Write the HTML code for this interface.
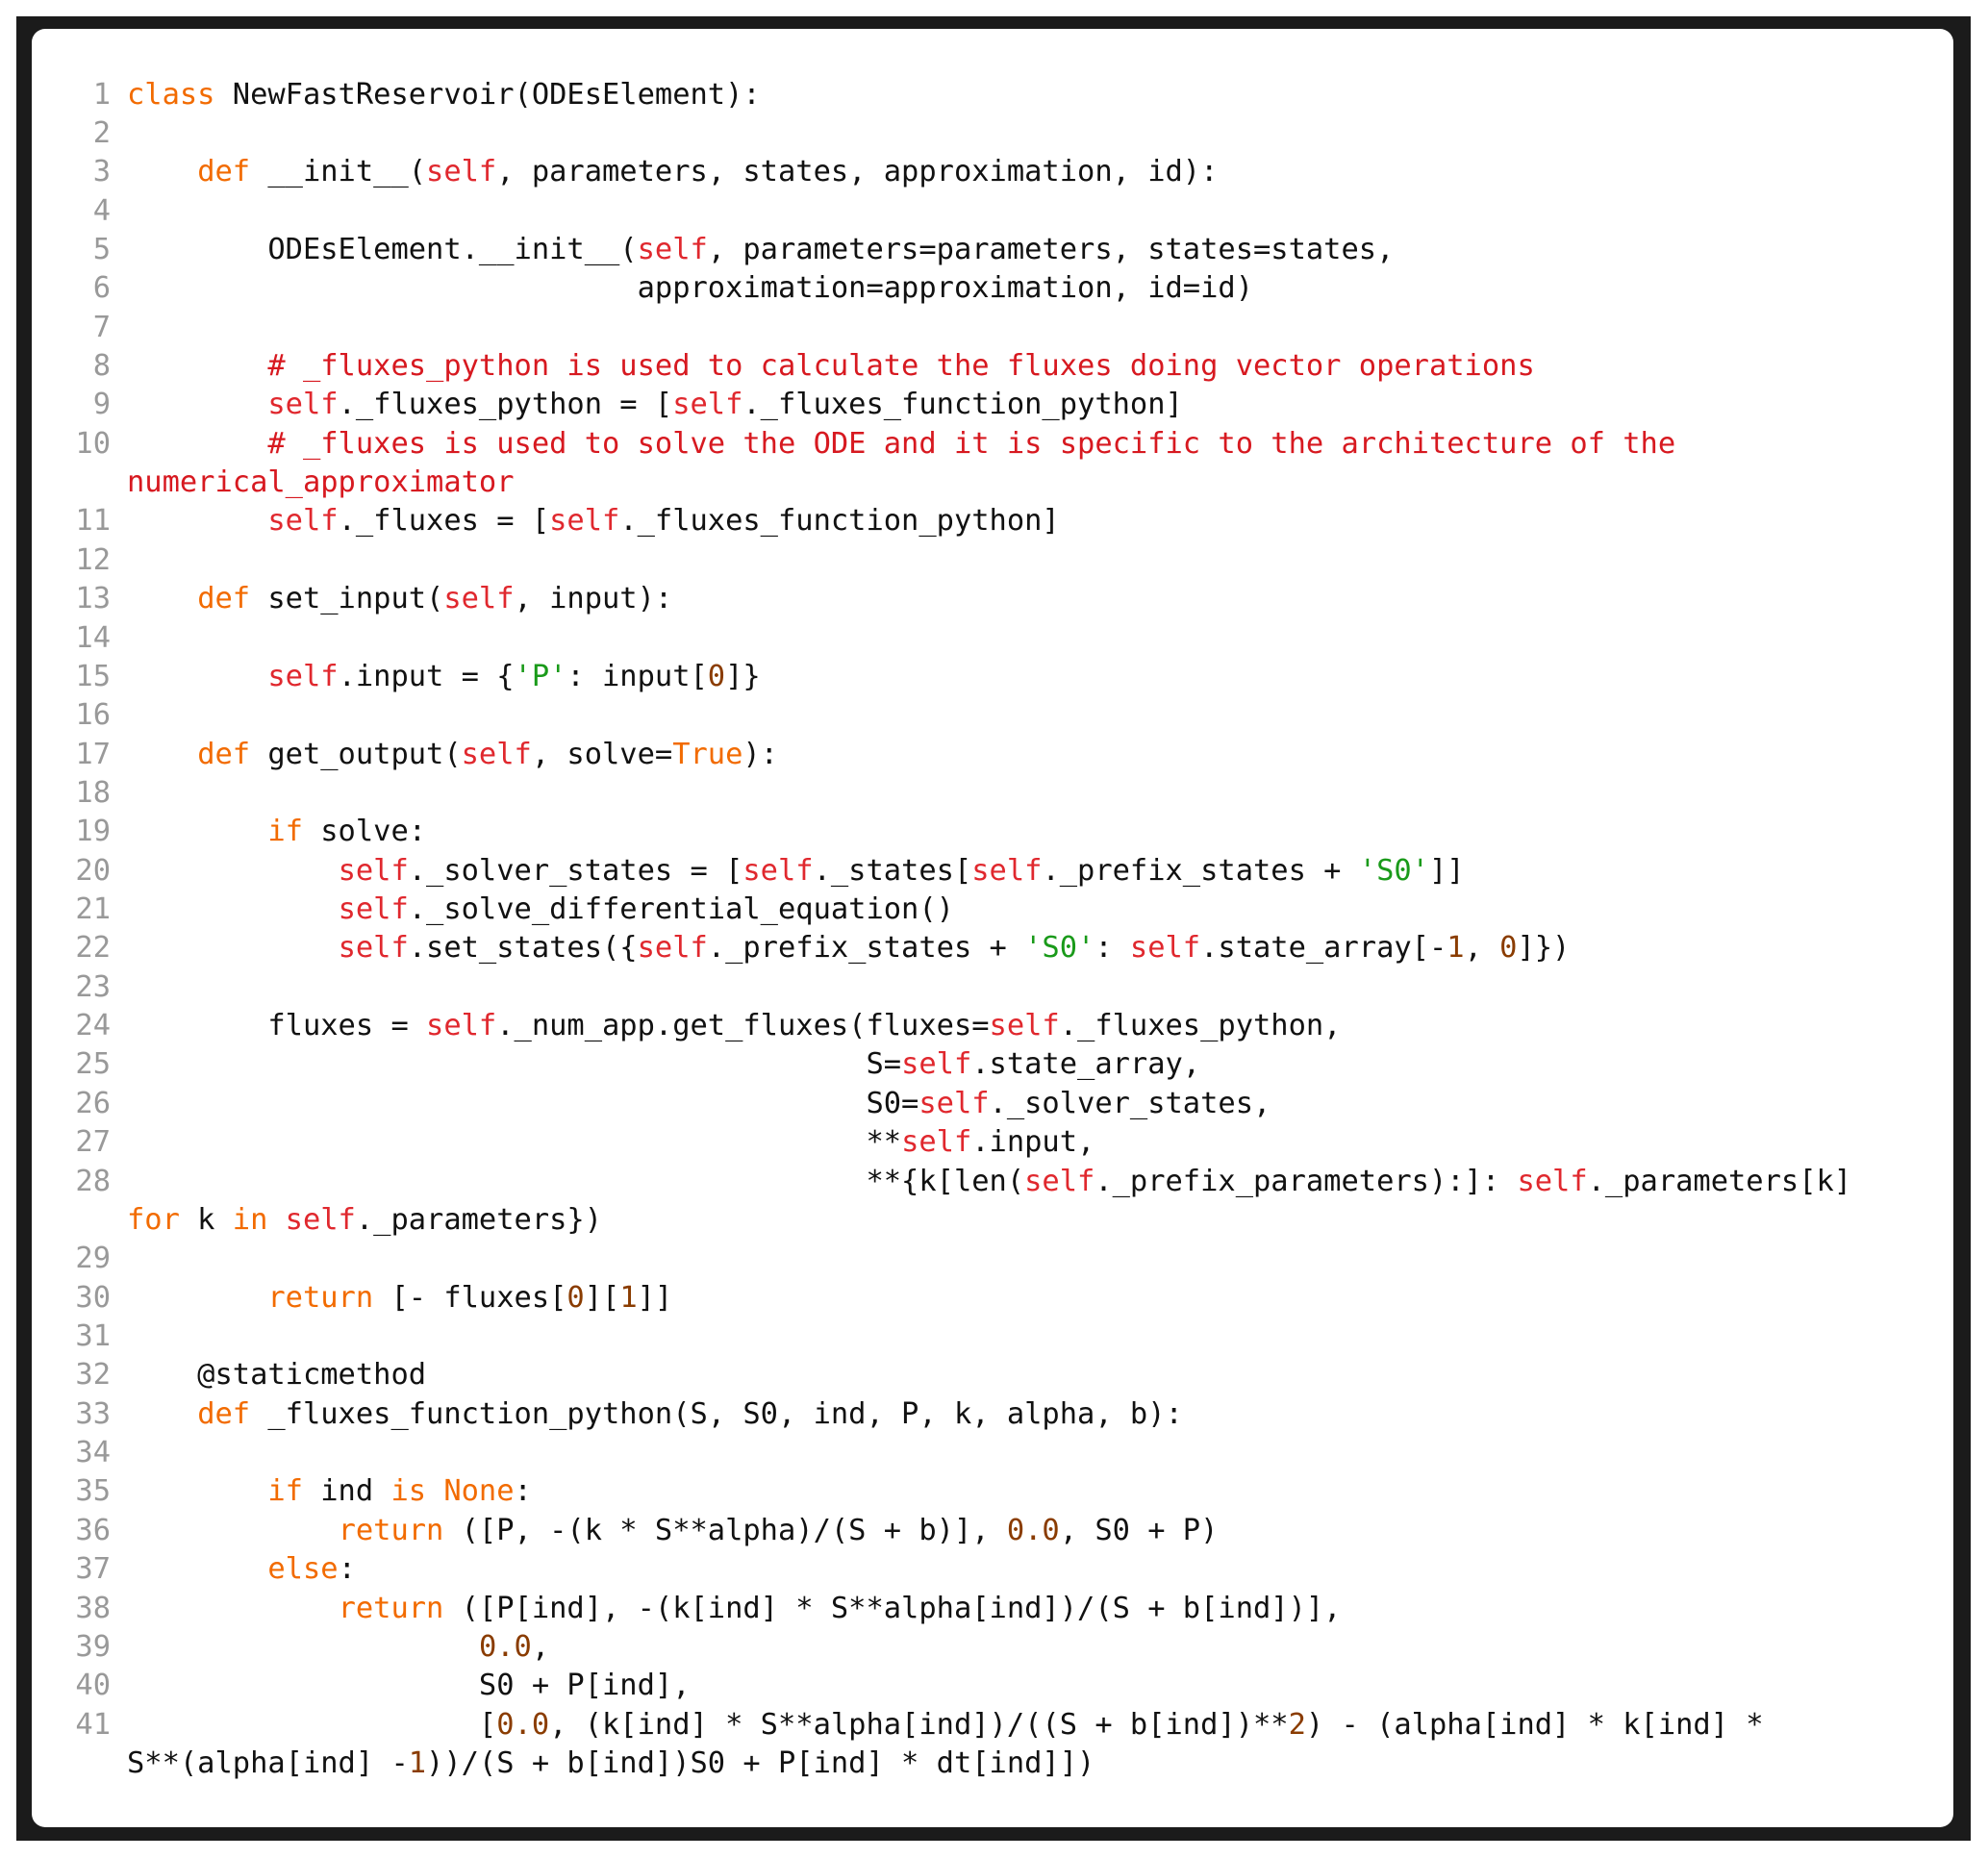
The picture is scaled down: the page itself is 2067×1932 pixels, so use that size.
<!DOCTYPE html>
<html><head><meta charset="utf-8"><style>
html,body{margin:0;padding:0;background:#fff;width:2067px;height:1932px;overflow:hidden}
.outer{position:absolute;left:17px;top:17px;width:2032px;height:1897px;background:#1b1b1b}
.inner{position:absolute;left:33px;top:30px;width:1998px;height:1870px;background:#fff;border-radius:14px}
.code{position:absolute;left:0;top:78.5px;width:2067px;font-family:"DejaVu Sans Mono","Liberation Mono",monospace;font-size:30.4px;line-height:40.36px;color:#111}
.r{position:relative;height:40.36px}
.n{position:absolute;left:0;width:115px;text-align:right;color:#999}
.t{position:absolute;left:132px;white-space:pre}
.k{color:#f26b00}.s{color:#e0282e}.c{color:#d71920}.g{color:#1a9a1a}.m{color:#8a3c00}
</style></head><body>
<div class="outer"></div><div class="inner"></div>
<div class="code">
<div class="r"><span class="n">1</span><span class="t"><span class="k">class</span> NewFastReservoir(ODEsElement):</span></div>
<div class="r"><span class="n">2</span></div>
<div class="r"><span class="n">3</span><span class="t">    <span class="k">def</span> __init__(<span class="s">self</span>, parameters, states, approximation, id):</span></div>
<div class="r"><span class="n">4</span></div>
<div class="r"><span class="n">5</span><span class="t">        ODEsElement.__init__(<span class="s">self</span>, parameters=parameters, states=states,</span></div>
<div class="r"><span class="n">6</span><span class="t">                             approximation=approximation, id=id)</span></div>
<div class="r"><span class="n">7</span></div>
<div class="r"><span class="n">8</span><span class="t">        <span class="c"># _fluxes_python is used to calculate the fluxes doing vector operations</span></span></div>
<div class="r"><span class="n">9</span><span class="t">        <span class="s">self</span>._fluxes_python = [<span class="s">self</span>._fluxes_function_python]</span></div>
<div class="r"><span class="n">10</span><span class="t">        <span class="c"># _fluxes is used to solve the ODE and it is specific to the architecture of the</span></span></div>
<div class="r"><span class="t"><span class="c">numerical_approximator</span></span></div>
<div class="r"><span class="n">11</span><span class="t">        <span class="s">self</span>._fluxes = [<span class="s">self</span>._fluxes_function_python]</span></div>
<div class="r"><span class="n">12</span></div>
<div class="r"><span class="n">13</span><span class="t">    <span class="k">def</span> set_input(<span class="s">self</span>, input):</span></div>
<div class="r"><span class="n">14</span></div>
<div class="r"><span class="n">15</span><span class="t">        <span class="s">self</span>.input = {<span class="g">'P'</span>: input[<span class="m">0</span>]}</span></div>
<div class="r"><span class="n">16</span></div>
<div class="r"><span class="n">17</span><span class="t">    <span class="k">def</span> get_output(<span class="s">self</span>, solve=<span class="k">True</span>):</span></div>
<div class="r"><span class="n">18</span></div>
<div class="r"><span class="n">19</span><span class="t">        <span class="k">if</span> solve:</span></div>
<div class="r"><span class="n">20</span><span class="t">            <span class="s">self</span>._solver_states = [<span class="s">self</span>._states[<span class="s">self</span>._prefix_states + <span class="g">'S0'</span>]]</span></div>
<div class="r"><span class="n">21</span><span class="t">            <span class="s">self</span>._solve_differential_equation()</span></div>
<div class="r"><span class="n">22</span><span class="t">            <span class="s">self</span>.set_states({<span class="s">self</span>._prefix_states + <span class="g">'S0'</span>: <span class="s">self</span>.state_array[-<span class="m">1</span>, <span class="m">0</span>]})</span></div>
<div class="r"><span class="n">23</span></div>
<div class="r"><span class="n">24</span><span class="t">        fluxes = <span class="s">self</span>._num_app.get_fluxes(fluxes=<span class="s">self</span>._fluxes_python,</span></div>
<div class="r"><span class="n">25</span><span class="t">                                          S=<span class="s">self</span>.state_array,</span></div>
<div class="r"><span class="n">26</span><span class="t">                                          S0=<span class="s">self</span>._solver_states,</span></div>
<div class="r"><span class="n">27</span><span class="t">                                          **<span class="s">self</span>.input,</span></div>
<div class="r"><span class="n">28</span><span class="t">                                          **{k[len(<span class="s">self</span>._prefix_parameters):]: <span class="s">self</span>._parameters[k]</span></div>
<div class="r"><span class="t"><span class="k">for</span> k <span class="k">in</span> <span class="s">self</span>._parameters})</span></div>
<div class="r"><span class="n">29</span></div>
<div class="r"><span class="n">30</span><span class="t">        <span class="k">return</span> [- fluxes[<span class="m">0</span>][<span class="m">1</span>]]</span></div>
<div class="r"><span class="n">31</span></div>
<div class="r"><span class="n">32</span><span class="t">    @staticmethod</span></div>
<div class="r"><span class="n">33</span><span class="t">    <span class="k">def</span> _fluxes_function_python(S, S0, ind, P, k, alpha, b):</span></div>
<div class="r"><span class="n">34</span></div>
<div class="r"><span class="n">35</span><span class="t">        <span class="k">if</span> ind <span class="k">is</span> <span class="k">None</span>:</span></div>
<div class="r"><span class="n">36</span><span class="t">            <span class="k">return</span> ([P, -(k * S**alpha)/(S + b)], <span class="m">0.0</span>, S0 + P)</span></div>
<div class="r"><span class="n">37</span><span class="t">        <span class="k">else</span>:</span></div>
<div class="r"><span class="n">38</span><span class="t">            <span class="k">return</span> ([P[ind], -(k[ind] * S**alpha[ind])/(S + b[ind])],</span></div>
<div class="r"><span class="n">39</span><span class="t">                    <span class="m">0.0</span>,</span></div>
<div class="r"><span class="n">40</span><span class="t">                    S0 + P[ind],</span></div>
<div class="r"><span class="n">41</span><span class="t">                    [<span class="m">0.0</span>, (k[ind] * S**alpha[ind])/((S + b[ind])**<span class="m">2</span>) - (alpha[ind] * k[ind] *</span></div>
<div class="r"><span class="t">S**(alpha[ind] -<span class="m">1</span>))/(S + b[ind])S0 + P[ind] * dt[ind]])</span></div>
</div>
</body></html>
